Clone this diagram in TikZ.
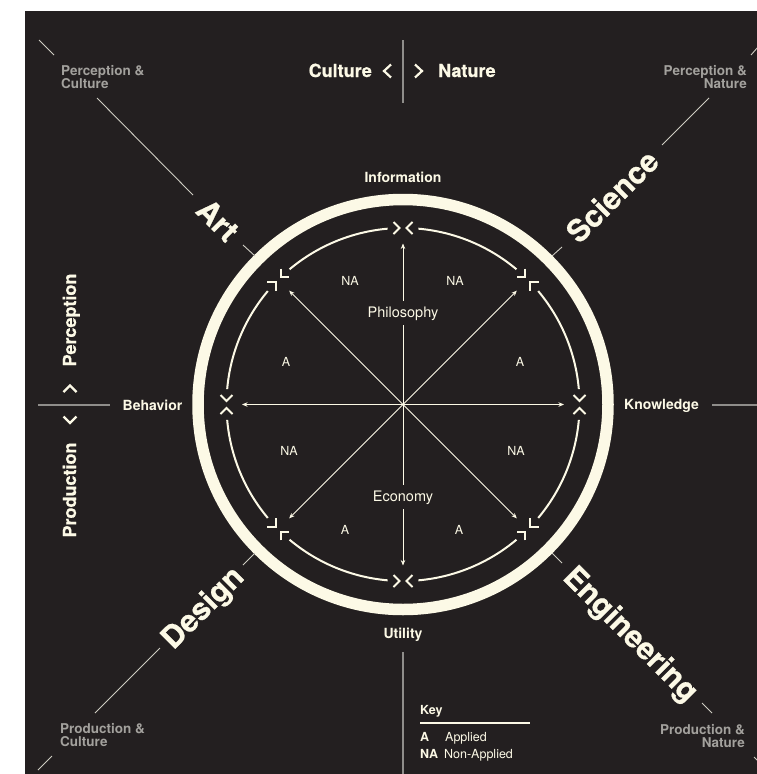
\documentclass[tikz,border=0pt]{standalone}
\usepackage{fontspec}
\setmainfont{TeX Gyre Heros}
\newfontfamily\heavyfont{TeX Gyre Heros}[BoldFeatures={FakeBold=0.7}]
\usetikzlibrary{arrows.meta}
\definecolor{bg}{HTML}{231F20}
\definecolor{cream}{HTML}{FCF9E6}
\definecolor{greytxt}{HTML}{A3A19D}
\definecolor{axisgrey}{HTML}{8F8D8A}
\definecolor{diagc}{HTML}{CFCDC3}
\begin{document}
\begin{tikzpicture}[x=1pt,y=-1pt,
  biglabel/.style={font=\fontsize{30.5}{30.5}\selectfont\heavyfont\bfseries, text=cream, inner sep=0pt, text depth=0pt},
  axislabel/.style={font=\fontsize{14}{14}\selectfont\bfseries, text=cream, inner sep=0pt},
  poslabel/.style={font=\fontsize{18}{18}\selectfont\heavyfont\bfseries, text=cream, inner sep=0pt},
  cornerlabel/.style={font=\fontsize{13.5}{13}\selectfont\bfseries, text=greytxt, inner sep=0pt},
  sector/.style={font=\fontsize{12.5}{12.5}\selectfont, text=cream, inner sep=0pt},
  keybold/.style={font=\fontsize{12.5}{12.5}\selectfont\bfseries, text=cream, inner sep=0pt, anchor=base west},
  keytext/.style={font=\fontsize{12.5}{12.5}\selectfont, text=cream, inner sep=0pt, anchor=base west},
  coretext/.style={font=\fontsize{14.5}{14.5}\selectfont, text=cream, fill=bg, inner sep=5pt, anchor=base},
  dimline/.style={draw=diagc, line width=0.9pt},
  axisline/.style={draw=axisgrey, line width=1.2pt},
  chev/.style={draw=cream, line width=2pt, line cap=butt, line join=miter},
  spoke/.style={draw=cream, line width=0.8pt, -{Stealth[length=5.5pt,width=4.5pt]}},
  ringarc/.style={draw=cream, line width=2pt}
]
\useasboundingbox (0,0) rectangle (757,774);
\fill[white] (0,0) rectangle (757,774);
\fill[bg] (25,11) rectangle (757,774);

\coordinate (C) at (403,404.5);

% outer ring
\draw[cream, line width=11.5pt] (C) circle[radius=205pt];

% inner arcs
\foreach \a in {0,45,...,315}{
  \draw[ringarc] ({403+176.5*cos(\a+5)},{404.5-176.5*sin(\a+5)}) arc[start angle=\a+5, end angle=\a+40, radius=176.5pt];
}

% chevron markers
\foreach \a in {0,45,...,315}{
  \begin{scope}[shift={({403+176.5*cos(\a)},{404.5-176.5*sin(\a)})}, rotate=\a-90]
    \draw[chev] (-9.5,-6) -- (-3.5,0) -- (-9.5,6);
    \draw[chev] (9.5,-6) -- (3.5,0) -- (9.5,6);
  \end{scope}
}

% spokes
\foreach \a in {0,45,...,315}{
  \coordinate (s\a) at ({403+161*cos(\a)},{404.5-161*sin(\a)});
  \draw[spoke] (C) -- (s\a);
}
\node[coretext] (philo) at (403,317) {Philosophy};
\node[coretext] (econ) at (403,501) {Economy};

% sector labels
\node[sector] (na1) at (350,281) {NA};
\node[sector] (na2) at (455,281) {NA};
\node[sector] (a1) at (286,362) {A};
\node[sector] (a2) at (520,362) {A};
\node[sector] (na3) at (289,451) {NA};
\node[sector] (na4) at (516,451) {NA};
\node[sector] (a3) at (345,530) {A};
\node[sector] (a4) at (459,530) {A};

% outer axis labels
\node[axislabel, anchor=base] (info) at (403,182) {Information};
\node[axislabel, anchor=base] (know) at (661.5,409.5) {Knowledge};
\node[axislabel, anchor=base] (util) at (403,638) {Utility};
\node[axislabel, anchor=base] (behav) at (152.5,410) {Behavior};

% axis lines
\coordinate (vt1) at (403,40);  \coordinate (vt2) at (403,103);
\coordinate (vb1) at (403,652); \coordinate (vb2) at (403,774);
\coordinate (hl1) at (38,405);  \coordinate (hl2) at (110,405);
\coordinate (hr1) at (712,405); \coordinate (hr2) at (757,405);
\draw[axisline] (vt1) -- (vt2);
\draw[axisline] (vb1) -- (vb2);
\draw[axisline] (hl1) -- (hl2);
\draw[axisline] (hr1) -- (hr2);

% culture / nature
\node[poslabel, anchor=base east] (culture) at (372,77) {Culture};
\node[poslabel, anchor=base west] (nature) at (438,77) {Nature};
\draw[chev, line width=2.2pt] (391,64.5) -- (384,71) -- (391,77.5);
\draw[chev, line width=2.2pt] (415,64.5) -- (422,71) -- (415,77.5);

% perception / production
\node[poslabel, rotate=90, anchor=base] (percep) at (76,320) {Perception};
\node[poslabel, rotate=90, anchor=base] (produc) at (76,490) {Production};
\draw[chev, line width=2.2pt] (63.5,392) -- (70,385.5) -- (76.5,392);
\draw[chev, line width=2.2pt] (63.5,416.5) -- (70,423) -- (76.5,416.5);

% diagonal segments
\coordinate (tla) at (39,40);   \coordinate (tlb) at (54,55);
\coordinate (tlc) at (97,98);   \coordinate (tld) at (193,195);
\coordinate (tle) at (243,245); \coordinate (tlf) at (255,256);
\draw[dimline] (tla) -- (tlb);
\draw[dimline] (tlc) -- (tld);
\draw[dimline] (tle) -- (tlf);

\coordinate (tra) at (758,47);  \coordinate (trb) at (751,55);
\coordinate (trc) at (709,98);  \coordinate (trd) at (662,145);
\coordinate (tre) at (562,247); \coordinate (trf) at (552,256);
\draw[dimline] (tra) -- (trb);
\draw[dimline] (trc) -- (trd);
\draw[dimline] (tre) -- (trf);

\coordinate (bla) at (255,553); \coordinate (blb) at (243,565);
\coordinate (blc) at (160,648); \coordinate (bld) at (95,713);
\coordinate (ble) at (52,756);  \coordinate (blf) at (38,770);
\draw[dimline] (bla) -- (blb);
\draw[dimline] (blc) -- (bld);
\draw[dimline] (ble) -- (blf);

\coordinate (bra) at (552,553); \coordinate (brb) at (562,563);
\coordinate (brc) at (702,703); \coordinate (brd) at (712,713);
\coordinate (bre) at (754,757); \coordinate (brf) at (758,761);
\draw[dimline] (bra) -- (brb);
\draw[dimline] (brc) -- (brd);
\draw[dimline] (bre) -- (brf);

% big labels
\node[biglabel, rotate=-45] (art) at (218,220) {Art};
\node[biglabel, rotate=45] (science) at (612,196) {Science};
\node[biglabel, rotate=45] (design) at (201.5,606.5) {Design};
\node[biglabel, rotate=-45] (engineering) at (632,633) {Engineering};

% corner labels
\node[cornerlabel, align=left, anchor=north west] (pc) at (61,65) {Perception \&\\Culture};
\node[cornerlabel, align=right, anchor=north east] (pn) at (747,65) {Perception \&\\Nature};
\node[cornerlabel, align=left, anchor=south west] (prc) at (60,747) {Production \&\\Culture};
\node[cornerlabel, align=right, anchor=south east] (prn) at (745,748) {Production \&\\Nature};

% key
\node[keybold] (key) at (420,714) {Key};
\coordinate (k1) at (420,723); \coordinate (k2) at (530,723);
\draw[draw=cream, line width=1.3pt] (k1) -- (k2);
\node[keybold] (ka) at (420,741) {A};
\node[keytext] (kat) at (445,741) {Applied};
\node[keybold] (kna) at (420,758) {NA};
\node[keytext] (knat) at (444,758) {Non-Applied};
\end{tikzpicture}
\end{document}
